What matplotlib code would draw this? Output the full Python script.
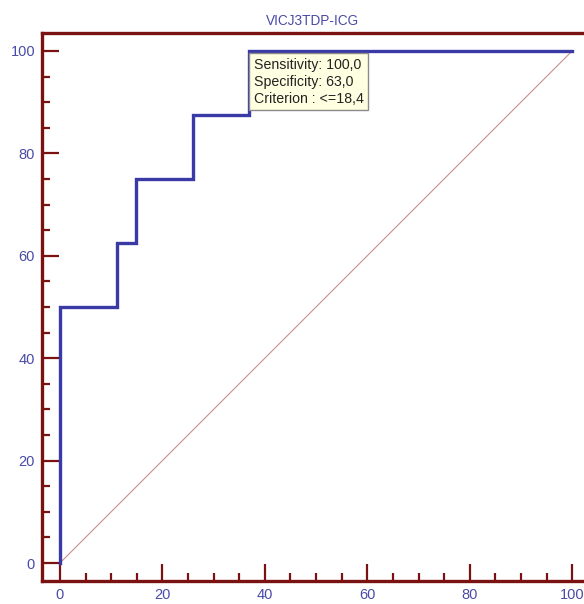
import matplotlib
matplotlib.use("Agg")
import matplotlib.pyplot as plt
from matplotlib.ticker import MultipleLocator

# ROC curve points (100-Specificity, Sensitivity)
fpr = [0, 0, 11.1, 11.1, 14.8, 14.8, 25.9, 25.9, 37.0, 37.0, 100]
tpr = [0, 50.0, 50.0, 62.5, 62.5, 75.0, 75.0, 87.5, 87.5, 100, 100]
diag_x = [0, 100]
diag_y = [0, 100]
titulo = "VICJ3TDP-ICG"
info = "Sensitivity: 100,0\nSpecificity: 63,0\nCriterion : <=18,4"
info_pos = (37.8, 98.7)

plt.rcParams["font.family"] = ["Liberation Sans", "DejaVu Sans"]
spine_cor = "#7a1212"
azul = "#3a3aa6"

fig = plt.figure(figsize=(5.84, 6.04), dpi=100)
ax = fig.add_axes([0.0719, 0.0381, 0.9281, 0.9073])

ax.plot(diag_x, diag_y, color="#c99090", linewidth=0.8, zorder=2)
ax.plot(fpr, tpr, color=azul, linewidth=2.4, zorder=3, solid_joinstyle="miter")

ax.set_xlim(-3.5, 102.3)
ax.set_ylim(-3.5, 103.5)

for lado in ["left", "bottom", "top"]:
    ax.spines[lado].set_color(spine_cor)
    ax.spines[lado].set_linewidth(2.4)
ax.spines["right"].set_visible(False)

ax.xaxis.set_major_locator(MultipleLocator(20))
ax.xaxis.set_minor_locator(MultipleLocator(5))
ax.yaxis.set_major_locator(MultipleLocator(20))
ax.yaxis.set_minor_locator(MultipleLocator(5))
ax.tick_params(which="major", direction="in", length=12, width=1.6, color=spine_cor,
               labelcolor="#4a4aa8", labelsize=10.5, top=False, right=False)
ax.tick_params(axis="x", which="major", pad=5)
ax.tick_params(axis="y", which="major", pad=5)
ax.tick_params(which="minor", direction="in", length=6, width=1.6, color=spine_cor,
               top=False, right=False)

ax.set_title(titulo, color="#4a4aa8", fontsize=9.8, pad=6)

ax.text(info_pos[0], info_pos[1], info, fontsize=10.2, color="#222222", va="top", ha="left",
        linespacing=1.3, zorder=5,
        bbox=dict(boxstyle="square,pad=0.3", facecolor="#ffffe1", edgecolor="#8a8a8a", linewidth=1))

fig.savefig("out.png", dpi=100)
